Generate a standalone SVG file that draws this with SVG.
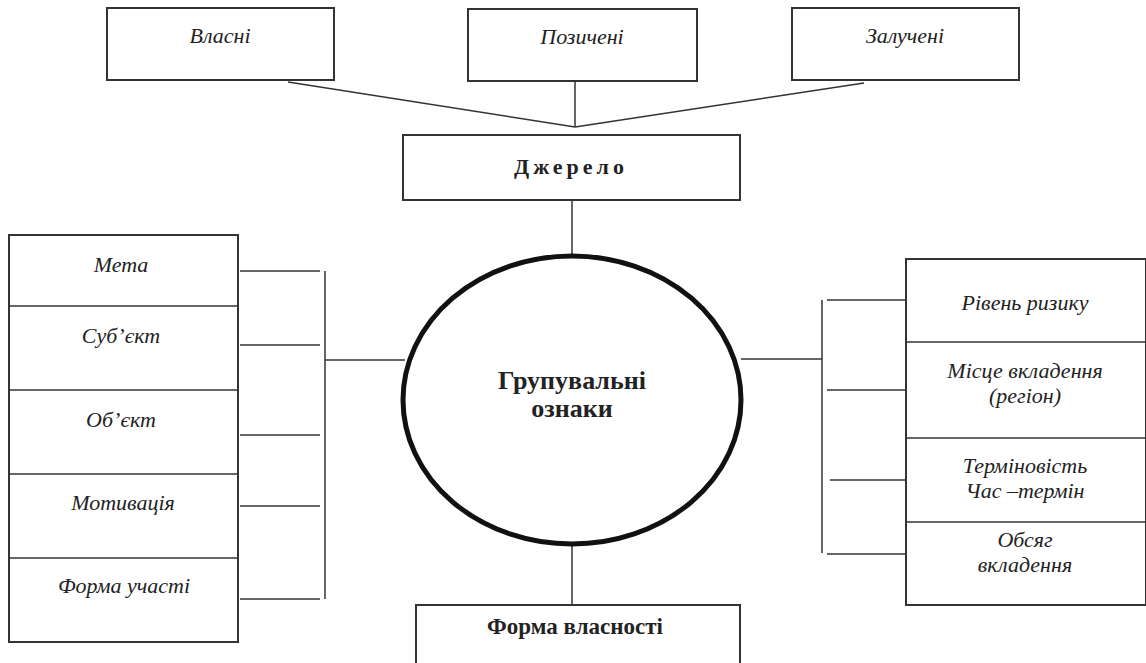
<svg xmlns="http://www.w3.org/2000/svg" width="1146" height="663" viewBox="0 0 1146 663">
<style>
.box{fill:#fff;stroke:#333;stroke-width:2}
.ln{stroke:#333;stroke-width:1.5;fill:none}
.it{font-family:"Liberation Serif","Times New Roman",serif;font-style:italic;font-size:22px;fill:#222;text-anchor:middle}
.bd{font-family:"Liberation Serif","Times New Roman",serif;font-weight:bold;font-size:23px;fill:#222;text-anchor:middle}
.big{font-size:26px}
.src{font-size:22px;letter-spacing:4px}
</style>
<rect width="1146" height="663" fill="#fff"/>
<g id="connectors">
<line class="ln" x1="288" y1="82" x2="575" y2="127"/>
<line class="ln" x1="575" y1="81" x2="575" y2="127"/>
<line class="ln" x1="864" y1="83" x2="575" y2="127"/>
<line class="ln" x1="572" y1="200" x2="572" y2="256"/>
<line class="ln" x1="572" y1="545" x2="572" y2="605"/>
<line class="ln" x1="240" y1="271" x2="320" y2="271"/>
<line class="ln" x1="240" y1="345" x2="320" y2="345"/>
<line class="ln" x1="240" y1="435" x2="320" y2="435"/>
<line class="ln" x1="240" y1="506" x2="320" y2="506"/>
<line class="ln" x1="240" y1="599" x2="320" y2="599"/>
<line class="ln" x1="325" y1="271" x2="325" y2="599"/>
<line class="ln" x1="325" y1="360" x2="405" y2="360"/>
<line class="ln" x1="822" y1="300" x2="822" y2="553"/>
<line class="ln" x1="827" y1="300" x2="906" y2="300"/>
<line class="ln" x1="827" y1="390" x2="906" y2="390"/>
<line class="ln" x1="830" y1="480" x2="906" y2="480"/>
<line class="ln" x1="827" y1="554" x2="906" y2="554"/>
<line class="ln" x1="741" y1="359" x2="822" y2="359"/>
</g>
<g id="vlasni"><rect class="box" x="107" y="8" width="227" height="72"/><text class="it" x="220" y="43">Власні</text></g>
<g id="pozycheni"><rect class="box" x="468" y="9" width="229" height="72"/><text class="it" x="582" y="44">Позичені</text></g>
<g id="zalucheni"><rect class="box" x="792" y="8" width="227" height="72"/><text class="it" x="905" y="43">Залучені</text></g>
<g id="dzherelo"><rect class="box" x="403" y="135" width="337" height="65"/><text class="bd src" x="571" y="174">Джерело</text></g>
<g id="center"><ellipse cx="572" cy="400" rx="169" ry="144" fill="#fff" stroke="#111" stroke-width="5"/><text class="bd big" x="572" y="389">Групувальні</text><text class="bd big" x="572" y="417">ознаки</text></g>
<g id="forma-vlasnosti"><rect class="box" x="416" y="605" width="324" height="62"/><text class="bd" x="575" y="634">Форма власності</text></g>
<g id="left">
<rect class="box" x="9" y="235" width="229" height="407"/>
<line class="ln" x1="9" y1="306" x2="238" y2="306"/>
<line class="ln" x1="9" y1="390" x2="238" y2="390"/>
<line class="ln" x1="9" y1="474" x2="238" y2="474"/>
<line class="ln" x1="9" y1="558" x2="238" y2="558"/>
<g id="meta"><text class="it" x="121" y="272">Мета</text></g>
<g id="subiekt"><text class="it" x="121" y="343">Суб’єкт</text></g>
<g id="obiekt"><text class="it" x="121" y="427">Об’єкт</text></g>
<g id="motyvatsiia"><text class="it" x="123" y="510">Мотивація</text></g>
<g id="forma-uchasti"><text class="it" x="124" y="593">Форма участі</text></g>
</g>
<g id="right">
<rect class="box" x="906" y="259" width="240" height="346"/>
<line class="ln" x1="906" y1="342" x2="1146" y2="342"/>
<line class="ln" x1="906" y1="438" x2="1146" y2="438"/>
<line class="ln" x1="906" y1="522" x2="1146" y2="522"/>
<g id="riven"><text class="it" x="1025" y="310">Рівень ризику</text></g>
<g id="mistse"><text class="it" x="1025" y="378">Місце вкладення</text><text class="it" x="1025" y="403">(регіон)</text></g>
<g id="terminovist"><text class="it" x="1025" y="473">Терміновість</text><text class="it" x="1025" y="498">Час –термін</text></g>
<g id="obsiah"><text class="it" x="1025" y="547">Обсяг</text><text class="it" x="1025" y="572">вкладення</text></g>
</g>
</svg>
